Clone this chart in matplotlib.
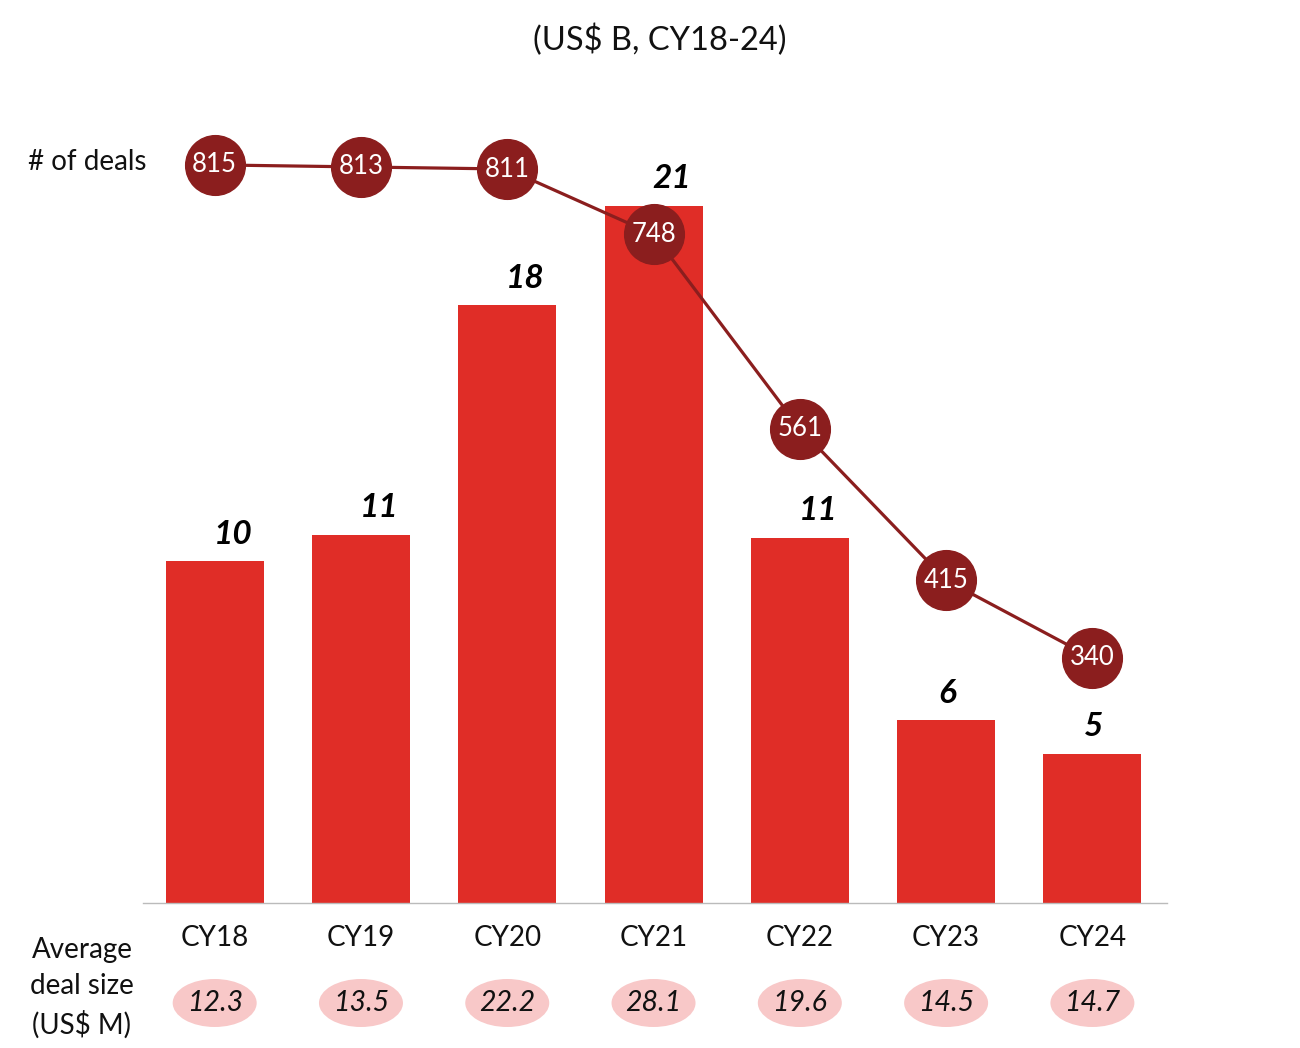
import matplotlib
matplotlib.use("Agg")
import matplotlib.pyplot as plt
from matplotlib.patches import Ellipse
from matplotlib.transforms import blended_transform_factory

# ---- data ----
years = ["CY18", "CY19", "CY20", "CY21", "CY22", "CY23", "CY24"]
deal_value = [10.3, 11.1, 18.0, 21.0, 11.0, 5.5, 4.5]       # bar heights (US$ B) as drawn
deal_value_labels = ["10", "11", "18", "21", "11", "6", "5"]
num_deals = [815, 813, 811, 748, 561, 415, 340]
avg_deal_size = ["12.3", "13.5", "22.2", "28.1", "19.6", "14.5", "14.7"]

# ---- styles ----
FONT = ["Lato", "DejaVu Sans"]
plt.rcParams["font.family"] = FONT
BAR_C = "#E02D27"
LINE_C = "#8B1E1E"
PINK = "#F8C8C8"

W, H = 1300, 1048
fig = plt.figure(figsize=(W / 100, H / 100), dpi=100)
ax = fig.add_axes([143 / W, 1 - 903 / H, (1167 - 143) / W, (903 - 100) / H])

x = list(range(len(years)))
ax.bar(x, deal_value, width=0.67, color=BAR_C, zorder=2)
ax.set_xlim(-0.49, 6.51)
ax.set_ylim(0, 24.19)
for s in ["top", "right", "left"]:
    ax.spines[s].set_visible(False)
ax.spines["bottom"].set_color("#BBBBBB")
ax.spines["bottom"].set_linewidth(1.0)
ax.set_yticks([])
ax.set_xticks([])

for xi, v, lab in zip(x, deal_value, deal_value_labels):
    dx = 13 if len(lab) > 1 else 1
    ax.annotate(lab, (xi, v), xytext=(dx, 9), textcoords="offset points",
                ha="center", va="bottom", fontsize=24, fontweight="bold",
                fontstyle="italic", color="black", zorder=5)

# line on twin axis
ax2 = ax.twinx()
ax2.set_ylim(104.0, 877.5)
ax2.set_xlim(-0.49, 6.51)
ax2.axis("off")
ax2.plot(x, num_deals, color=LINE_C, linewidth=2.3, marker="o",
         markersize=43, markerfacecolor=LINE_C, markeredgecolor=LINE_C, zorder=3)
for xi, n in zip(x, num_deals):
    ax2.text(xi, n, str(n), ha="center", va="center", color="white",
             fontsize=18.5, zorder=4)

# x labels
tx = blended_transform_factory(ax.transData, fig.transFigure)
for xi, y in zip(x, years):
    fig.text(xi, 1 - 938 / H, y, transform=tx, ha="center", va="center",
             fontsize=20, color="#111111")

# ellipses with avg deal size
for xi, a in zip(x, avg_deal_size):
    e = Ellipse((xi, 1 - 1003 / H), width=84 / 146.3, height=48 / H,
                transform=tx, facecolor=PINK, edgecolor="none", clip_on=False)
    fig.add_artist(e)
    fig.text(xi, 1 - 1003 / H, a, transform=tx, ha="center", va="center",
             fontsize=20.5, fontstyle="italic", color="#111111")

# side labels
fig.text(82 / W, 1 - 988 / H, "Average\ndeal size\n(US$ M)", ha="center",
         va="center", fontsize=20, linespacing=1.5, color="#111111")
fig.text(28 / W, 1 - 162 / H, "# of deals", ha="left", va="center",
         fontsize=20, color="#111111")
fig.text(660 / W, 1 - 40 / H, "(US$ B, CY18-24)", ha="center", va="center",
         fontsize=23.5, color="#111111")

fig.savefig("out.png", dpi=100)
